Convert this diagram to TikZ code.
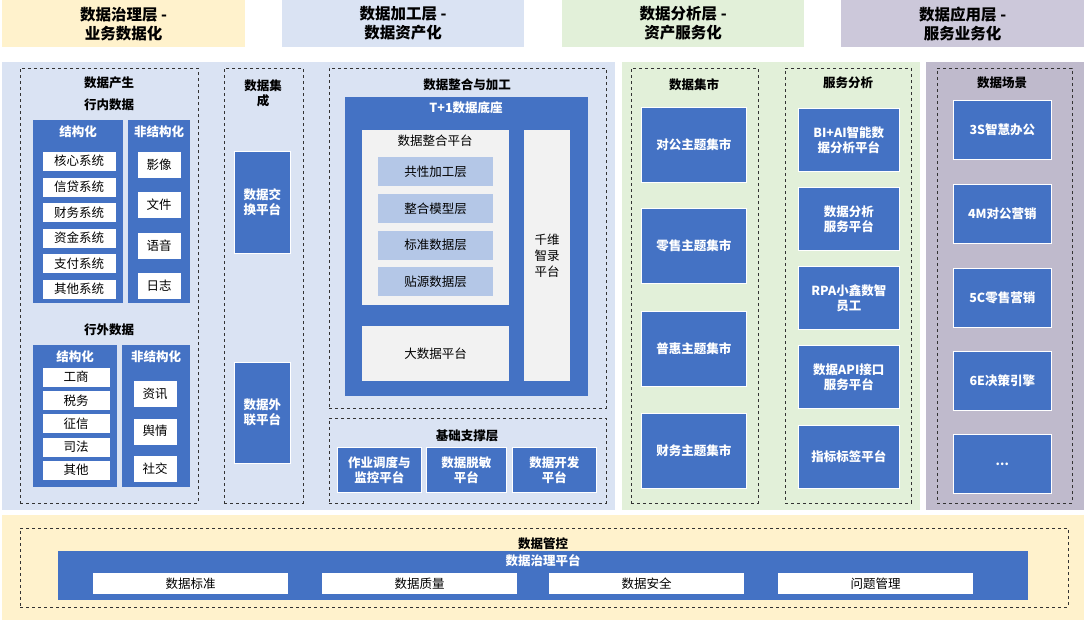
\documentclass[tikz,border=0pt]{standalone}
\usepackage{fontspec}
\setmainfont{Noto Sans CJK SC}
\definecolor{bblue}{HTML}{4472C4}
\definecolor{lblue}{HTML}{B4C7E7}
\definecolor{pblue}{HTML}{DAE3F3}
\definecolor{pgreen}{HTML}{E2F0D9}
\definecolor{ppurple}{HTML}{BFBACC}
\definecolor{hpurple}{HTML}{CCC8DA}
\definecolor{pyellow}{HTML}{FFF2CC}
\definecolor{pgrey}{HTML}{F2F2F2}
\tikzset{
  panel/.style={anchor=north west, inner sep=0pt},
  dbox/.style={draw=black!80, dashed, anchor=north west, inner sep=0pt},
  bluebox/.style={fill=bblue, draw=white, line width=0.6pt, anchor=north west, inner sep=1pt, text=white, font=\fontsize{12.5}{15}\selectfont\bfseries, align=center},
  item/.style={fill=white, draw=bblue, anchor=north west, inner sep=0pt, font=\fontsize{12.5}{14}\selectfont},
  layer/.style={fill=lblue, anchor=north west, inner sep=0pt, font=\fontsize{12.5}{14}\selectfont},
  greybox/.style={fill=pgrey, anchor=north west, inner sep=0pt, font=\fontsize{12.5}{16}\selectfont, align=center},
  ttl/.style={font=\fontsize{12.5}{15}\selectfont\bfseries, align=center},
  wttl/.style={font=\fontsize{12.5}{15}\selectfont\bfseries, text=white},
  head/.style={anchor=north west, inner sep=0pt, align=center, font=\fontsize{15.5}{19}\selectfont\bfseries}
}
\begin{document}
\begin{tikzpicture}[x=1pt,y=-1pt]
\useasboundingbox (0,0) rectangle (1086,621);

% top headers
\node[head, fill=pyellow, minimum width=243, minimum height=47] (h1) at (2,0) {数据治理层 -\\业务数据化};
\node[head, fill=pblue, minimum width=242, minimum height=47] (h2) at (282,0) {数据加工层 -\\数据资产化};
\node[head, fill=pgreen, minimum width=242, minimum height=47] (h3) at (562,0) {数据分析层 -\\资产服务化};
\node[head, fill=hpurple, minimum width=243, minimum height=47] (h4) at (841,0) {数据应用层 -\\服务业务化};

% background panels
\node[panel, fill=pblue, minimum width=613, minimum height=448] (pb) at (2,62) {};
\node[panel, fill=pgreen, minimum width=298, minimum height=448] (pg) at (622,62) {};
\node[panel, fill=ppurple, minimum width=158, minimum height=448] (pp) at (926,62) {};
\node[panel, fill=pyellow, minimum width=1082, minimum height=105] (py) at (2,515) {};

% data generation
\node[dbox, minimum width=178, minimum height=435] (gen) at (20,68) {};
\node[ttl] (genT) at (109,83) {数据产生};
\node[ttl] (inT) at (109,105) {行内数据};
\node[panel, fill=bblue, minimum width=90, minimum height=183] (inS) at (33,120) {};
\node[wttl] (inST) at (78,132) {结构化};
\node[panel, fill=bblue, minimum width=62, minimum height=183] (inU) at (128,120) {};
\node[wttl] (inUT) at (159,132) {非结构化};
\foreach \t [count=\i] in {核心系统,信贷系统,财务系统,资金系统,支付系统,其他系统}
  \node[item, minimum width=74, minimum height=20] (is\i) at (42,{151+25.6*(\i-1)}) {\t};
\foreach \t [count=\i] in {影像,文件,语音,日志}
  \node[item, minimum width=44, minimum height=27] (iu\i) at (137,{151+40.3*(\i-1)}) {\t};

\node[ttl] (outT) at (109,330) {行外数据};
\node[panel, fill=bblue, minimum width=84, minimum height=142] (outS) at (33,345) {};
\node[wttl] (outST) at (75,357) {结构化};
\node[panel, fill=bblue, minimum width=68, minimum height=142] (outU) at (122,345) {};
\node[wttl] (outUT) at (156,357) {非结构化};
\foreach \t [count=\i] in {工商,税务,征信,司法,其他}
  \node[item, minimum width=68, minimum height=20] (os\i) at (42,{367+23.2*(\i-1)}) {\t};
\foreach \t [count=\i] in {资讯,舆情,社交}
  \node[item, minimum width=44, minimum height=27] (ou\i) at (133,{380+37.5*(\i-1)}) {\t};

% data integration
\node[dbox, minimum width=79, minimum height=435] (intg) at (224,68) {};
\node[ttl] (intgT) at (263,93) {数据集\\成};
\node[bluebox, minimum width=56, minimum height=102] (xch) at (234,151) {数据交\\换平台};
\node[bluebox, minimum width=56, minimum height=101] (ext) at (234,362) {数据外\\联平台};

% processing
\node[dbox, minimum width=277, minimum height=340] (proc) at (329,68) {};
\node[ttl] (procT) at (467,85) {数据整合与加工};
\node[panel, fill=bblue, minimum width=243, minimum height=299] (base) at (345,97) {};
\node[wttl] (baseT) at (466,108) {T+1数据底座};
\node[panel, fill=pgrey, minimum width=147, minimum height=175] (plat) at (362,130) {};
\node[font=\fontsize{12.5}{15}\selectfont] (platT) at (435,141) {数据整合平台};
\foreach \t [count=\i] in {共性加工层,整合模型层,标准数据层,贴源数据层}
  \node[layer, minimum width=115, minimum height=29] (ly\i) at (378,{157+36.7*(\i-1)}) {\t};
\node[greybox, minimum width=147, minimum height=55] (big) at (362,326) {大数据平台};
\node[greybox, minimum width=46, minimum height=251] (qw) at (524,130) {千维\\智录\\平台};

% support
\node[dbox, minimum width=277, minimum height=85] (sup) at (329,418) {};
\node[ttl] (supT) at (467,436) {基础支撑层};
\node[bluebox, minimum width=84, minimum height=45] (s1) at (337,447) {作业调度与\\监控平台};
\node[bluebox, minimum width=80, minimum height=45] (s2) at (426,447) {数据脱敏\\平台};
\node[bluebox, minimum width=84, minimum height=45] (s3) at (512,447) {数据开发\\平台};

% data marts
\node[dbox, minimum width=127, minimum height=435] (mart) at (631,68) {};
\node[ttl] (martT) at (694,85) {数据集市};
\foreach \t/\y [count=\i] in {对公主题集市/107,零售主题集市/208,普惠主题集市/311,财务主题集市/413}
  \node[bluebox, minimum width=105, minimum height=75] (m\i) at (641,\y) {\t};

% service analysis
\node[dbox, minimum width=126, minimum height=435] (srv) at (785,68) {};
\node[ttl] (srvT) at (848,83) {服务分析};
\foreach \t/\y [count=\i] in {{BI+AI智能数\\据分析平台}/108,{数据分析\\服务平台}/187,{RPA小鑫数智\\员工}/266,{数据API接口\\服务平台}/345,{指标标签平台}/425}
  \node[bluebox, minimum width=101, minimum height=63] (sv\i) at (798,\y) {\t};

% scenes
\node[dbox, minimum width=135, minimum height=435] (scn) at (937,68) {};
\node[ttl] (scnT) at (1002,83) {数据场景};
\foreach \t/\y [count=\i] in {3S智慧办公/100,4M对公营销/184,5C零售营销/268,6E决策引擎/351}
  \node[bluebox, minimum width=98, minimum height=59] (sc\i) at (953,\y) {\t};
\node[bluebox, minimum width=98, minimum height=59] (sc5) at (953,434) {...};

% governance
\node[dbox, minimum width=1048, minimum height=79] (gov) at (20,528) {};
\node[ttl] (govT) at (543,544) {数据管控};
\node[panel, fill=bblue, minimum width=970, minimum height=49] (gp) at (58,551) {};
\node[wttl] (gpT) at (543,561) {数据治理平台};
\foreach \t/\x [count=\i] in {数据标准/93,数据质量/322,数据安全/549,问题管理/778}
  \node[item, draw=none, minimum width=195, minimum height=21] (g\i) at (\x,573) {\t};
\end{tikzpicture}
\end{document}
